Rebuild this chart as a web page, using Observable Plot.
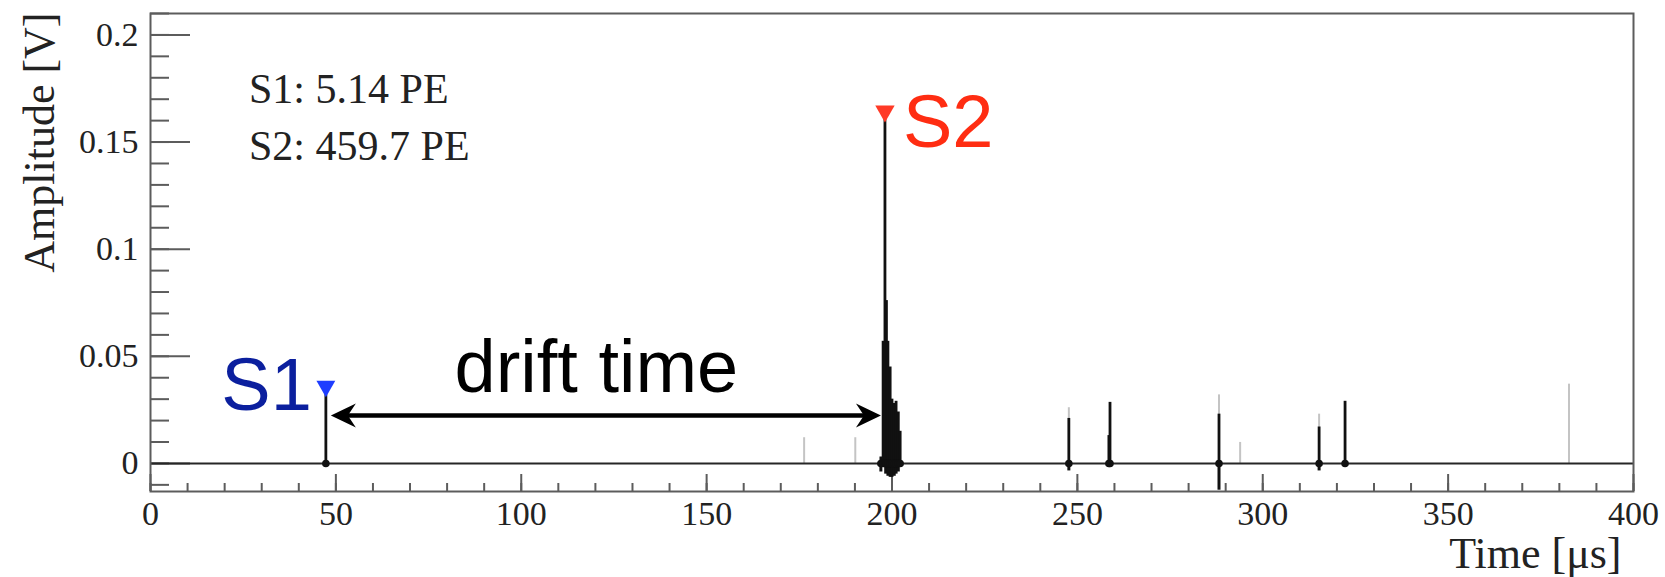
<!DOCTYPE html>
<html>
<head>
<meta charset="utf-8">
<script src="https://cdn.jsdelivr.net/npm/d3@7"></script>
<script src="https://cdn.jsdelivr.net/npm/@observablehq/plot@0.6"></script>
<style>
  html, body { margin: 0; padding: 0; background: #fff; }
  #chart svg { display: block; }
</style>
</head>
<body>
<div id="chart"></div>
<script>
// ---- Data ----
// Main (black) pulses: time [µs] and peak amplitude [V]
const pulseTime = [47.3, 197.0, 197.6, 198.1, 198.5, 198.9, 199.5, 200.0, 200.6, 201.1, 201.7, 202.2, 247.7, 258.5, 258.8, 288.2, 315.2, 322.2];
const pulseAmp  = [0.034, 0.003, 0.057, 0.163, 0.076, 0.057, 0.045, 0.030, 0.028, 0.029, 0.024, 0.015, 0.021, 0.013, 0.0285, 0.023, 0.017, 0.029];
// Undershoots below the baseline
const dipTime = [197.0, 198.3, 198.9, 199.5, 200.0, 200.6, 201.1, 201.7, 247.7, 288.2, 315.2];
const dipAmp  = [-0.004, -0.005, -0.006, -0.0065, -0.0065, -0.006, -0.005, -0.004, -0.0035, -0.0125, -0.0035];
// Faint (grey) overlaid traces
const faintTime = [176.3, 190.1, 247.7, 288.2, 293.9, 315.2, 382.6];
const faintAmp  = [0.012, 0.012, 0.026, 0.032, 0.0098, 0.023, 0.037];
// Identified peaks
const peakNames = ["S1", "S2"];
const peakTimes = [47.3, 198.1];
const peakAmps  = [0.036, 0.1644];
const peakPE    = [5.14, 459.7];
// Drift-time arrow level [V]
const driftLevel = 0.0224;
const driftLabel = "drift time";
// Axis ticks
const xMajorTicks = [0, 50, 100, 150, 200, 250, 300, 350, 400];
const yMajorTicks = [0, 0.05, 0.1, 0.15, 0.2];
const xMinorTicks = d3.range(0, 401, 10);
const yMinorTicks = d3.range(-1, 22).map(k => +(k * 0.01).toFixed(2));
const xTitle = "Time [μs]";
const yTitle = "Amplitude [V]";

// ---- Tables ----
const pulses = pulseTime.map((t, i) => ({t, v: pulseAmp[i]}));
const dips = dipTime.map((t, i) => ({t, v: dipAmp[i]}));
const faint = faintTime.map((t, i) => ({t, v: faintAmp[i]}));
const peaks = peakNames.map((name, i) => ({name, t: peakTimes[i], v: peakAmps[i]}));
const summary = peakNames.map((n, i) => `${n}: ${peakPE[i]} PE`).join("\n");

const W = 1665, H = 577;
const mL = 150, mR = 32, mT = 13, mB = 86;
const plotW = W - mL - mR, plotH = H - mT - mB;
const axisColor = "#5c5c5c";

// barbed arrow head, tip at origin, pointing right
const arrowHead = {
  draw(ctx) {
    ctx.moveTo(0, 0);
    ctx.lineTo(-25, -12);
    ctx.lineTo(-17, 0);
    ctx.lineTo(-25, 12);
    ctx.closePath();
  }
};

const sans = "'Liberation Sans', Arial, Helvetica, sans-serif";
const S1 = peaks.filter(d => d.name === "S1");
const S2 = peaks.filter(d => d.name === "S2");

const chart = Plot.plot({
  width: W, height: H,
  marginLeft: mL, marginRight: mR, marginTop: mT, marginBottom: mB,
  x: {domain: [0, 400]},
  y: {domain: [-0.0131, 0.21]},
  style: {fontFamily: "'Liberation Serif', 'Times New Roman', serif", fontSize: "34px", background: "#fff", color: "#222"},
  marks: [
    // ticks (inside the frame, ROOT style)
    Plot.gridY(yMinorTicks, {insetRight: plotW - 19, stroke: axisColor, strokeOpacity: 1, strokeWidth: 2}),
    Plot.gridY(yMajorTicks, {insetRight: plotW - 40, stroke: axisColor, strokeOpacity: 1, strokeWidth: 2}),
    Plot.gridX(xMinorTicks, {insetTop: plotH - 8, stroke: axisColor, strokeOpacity: 1, strokeWidth: 2}),
    Plot.gridX(xMajorTicks, {insetTop: plotH - 17, stroke: axisColor, strokeOpacity: 1, strokeWidth: 2}),
    Plot.axisY(yMajorTicks, {tickSize: 0, tickPadding: 12, tickFormat: d3.format("~g"), label: null, fontSize: 34}),
    Plot.axisX(xMajorTicks, {tickSize: 0, tickPadding: 9, tickFormat: d3.format("d"), label: null, fontSize: 34}),
    // waveform
    Plot.ruleX(faint, {x: "t", y1: 0, y2: "v", stroke: "#c4c4c4", strokeWidth: 2}),
    Plot.ruleY([0], {stroke: "#262626", strokeWidth: 2}),
    Plot.ruleX(pulses, {x: "t", y1: 0, y2: "v", stroke: "#111", strokeWidth: 2.8}),
    Plot.ruleX(dips, {x: "t", y1: 0, y2: "v", stroke: "#111", strokeWidth: 3}),
    Plot.dot(pulses, {x: "t", y: () => 0, r: 3.8, fill: "#111", stroke: "none"}),
    // frame
    Plot.frame({stroke: axisColor, strokeWidth: 2}),
    // peak markers
    Plot.dot(S1, {x: "t", y: "v", symbol: "triangle", rotate: 180, r: 7, fill: "#1e3dff", stroke: "none"}),
    Plot.dot(S2, {x: "t", y: "v", symbol: "triangle", rotate: 180, r: 7.2, fill: "#ff3a26", stroke: "none"}),
    Plot.text(S1, {x: "t", y: "v", text: "name", textAnchor: "end", dx: -14, dy: 0, fontSize: 74, fontFamily: sans, fill: "#0b1f9e"}),
    Plot.text(S2, {x: "t", y: "v", text: "name", textAnchor: "start", dx: 18, dy: 12.6, fontSize: 74, fontFamily: sans, fill: "#ff2d12"}),
    // drift-time arrow
    Plot.ruleY([driftLevel], {x1: peakTimes[0], x2: peakTimes[1], insetLeft: 20, insetRight: 19, stroke: "#000", strokeWidth: 4.5}),
    Plot.dot([{t: peakTimes[0], v: driftLevel}], {x: "t", y: "v", symbol: arrowHead, rotate: 180, dx: 5, fill: "#000", stroke: "none"}),
    Plot.dot([{t: peakTimes[1], v: driftLevel}], {x: "t", y: "v", symbol: arrowHead, rotate: 0, dx: -4, fill: "#000", stroke: "none"}),
    Plot.text([{t: (peakTimes[0] + peakTimes[1]) / 2, v: driftLevel, label: driftLabel}], {x: "t", y: "v", text: "label", textAnchor: "middle", dx: -9, dy: -47, fontSize: 74, fontFamily: sans, fill: "#000"}),
    // summary text
    Plot.text([summary], {frameAnchor: "top-left", textAnchor: "start", lineAnchor: "top", lineHeight: 1.357, dx: 98.5, dy: 49, fontSize: 42, fill: "#222"}),
    // axis titles
    Plot.text([xTitle], {frameAnchor: "bottom-right", textAnchor: "end", lineAnchor: "middle", dx: -12, dy: 62, fontSize: 44, fill: "#222"}),
    Plot.text([yTitle], {frameAnchor: "top-left", rotate: -90, textAnchor: "end", lineAnchor: "middle", dx: -111, dy: -1, fontSize: 44, fill: "#222"})
  ]
});
document.getElementById("chart").appendChild(chart);
</script>
</body>
</html>
